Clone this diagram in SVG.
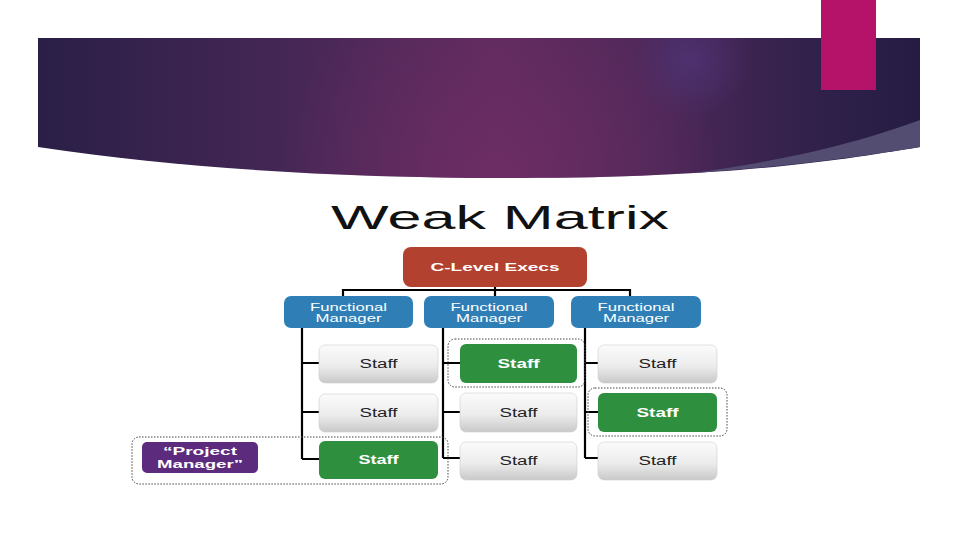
<svg xmlns="http://www.w3.org/2000/svg" width="960" height="540" viewBox="0 0 960 540">
<defs>
<linearGradient id="bandH" x1="0" y1="0" x2="1" y2="0">
<stop offset="0" stop-color="#2a1f47"/>
<stop offset="0.3" stop-color="#472756"/>
<stop offset="0.52" stop-color="#5e2b5f"/>
<stop offset="0.72" stop-color="#4a2757"/>
<stop offset="0.9" stop-color="#2e2049"/>
<stop offset="1" stop-color="#261c43"/>
</linearGradient>
<radialGradient id="glowMag" cx="500" cy="180" r="220" gradientUnits="userSpaceOnUse">
<stop offset="0" stop-color="#6e2d64" stop-opacity="0.9"/>
<stop offset="1" stop-color="#6e2d64" stop-opacity="0"/>
</radialGradient>
<radialGradient id="glowBlue" cx="690" cy="60" r="60" gradientUnits="userSpaceOnUse">
<stop offset="0" stop-color="#4e3272" stop-opacity="0.9"/>
<stop offset="1" stop-color="#4e3272" stop-opacity="0"/>
</radialGradient>
<linearGradient id="grayBox" x1="0" y1="0" x2="0" y2="1">
<stop offset="0" stop-color="#fbfbfb"/>
<stop offset="0.55" stop-color="#ececec"/>
<stop offset="1" stop-color="#c9c9c9"/>
</linearGradient>
<style>
.conn{stroke:#000;stroke-width:2.2;fill:none}
.dot{fill:none;stroke:#444;stroke-width:1;stroke-dasharray:1.5 1.5}
.gray{fill:url(#grayBox);stroke:#cfcfcf;stroke-width:0.6}
.green{fill:#2e8f3f}
.blue{fill:#2f7fb6}
.t{font-family:"Liberation Sans",Arial,sans-serif;text-anchor:middle}
.tw{fill:#fff}
.tb{font-weight:bold}
.td{fill:#222}
</style>
</defs>
<rect width="960" height="540" fill="#fff"/>
<g id="header">
<path d="M38,38 H920 V147 C830,162 720,178 520,178 C330,178 180,168 38,147 Z" fill="url(#bandH)"/>
<path d="M38,38 H920 V147 C830,162 720,178 520,178 C330,178 180,168 38,147 Z" fill="url(#glowMag)"/>
<path d="M38,38 H920 V147 C830,162 720,178 520,178 C330,178 180,168 38,147 Z" fill="url(#glowBlue)"/>
<path d="M692,173 C790,160 860,142 920,120 V147 C840,160 770,168 692,173 Z" fill="#534d72"/>
<rect x="821" y="0" width="55" height="90" fill="#b5136a"/>
</g>
<text class="t" x="500" y="229" font-size="33" fill="#111" textLength="338" lengthAdjust="spacingAndGlyphs">Weak Matrix</text>
<g id="connectors">
<path class="conn" d="M495,287 V297 M343,297 V290 H630 V297 M495,290 V297"/>
<path class="conn" d="M302,328 V459 M302,363 H320 M302,412 H320 M302,459 H320"/>
<path class="conn" d="M443,328 V458 M443,363 H460 M443,412 H460 M443,458 H460"/>
<path class="conn" d="M585,328 V458 M585,363 H598 M585,412 H598 M585,458 H598"/>
</g>
<g id="c-level">
<rect x="403" y="247" width="184" height="40" rx="8" fill="#b3412f"/>
<text class="t tw tb" x="495" y="271" font-size="11.5" textLength="129" lengthAdjust="spacingAndGlyphs">C-Level Execs</text>
</g>
<g id="fm1">
<rect class="blue" x="284" y="296" width="129" height="32" rx="7"/>
<text class="t tw" x="348.5" y="310.5" font-size="10" textLength="77" lengthAdjust="spacingAndGlyphs">Functional</text>
<text class="t tw" x="348.5" y="321.5" font-size="10" textLength="66" lengthAdjust="spacingAndGlyphs">Manager</text>
</g>
<g id="fm2">
<rect class="blue" x="424" y="296" width="130" height="32" rx="7"/>
<text class="t tw" x="489" y="310.5" font-size="10" textLength="77" lengthAdjust="spacingAndGlyphs">Functional</text>
<text class="t tw" x="489" y="321.5" font-size="10" textLength="66" lengthAdjust="spacingAndGlyphs">Manager</text>
</g>
<g id="fm3">
<rect class="blue" x="571" y="296" width="130" height="32" rx="7"/>
<text class="t tw" x="636" y="310.5" font-size="10" textLength="77" lengthAdjust="spacingAndGlyphs">Functional</text>
<text class="t tw" x="636" y="321.5" font-size="10" textLength="66" lengthAdjust="spacingAndGlyphs">Manager</text>
</g>
<g id="pm-group">
<rect class="dot" x="132" y="437" width="316" height="47" rx="7"/>
</g>
<g id="pm">
<rect x="142" y="442" width="116" height="31" rx="5" fill="#5d2b7d"/>
<text class="t tw tb" x="200" y="455" font-size="11" textLength="74" lengthAdjust="spacingAndGlyphs">“Project</text>
<text class="t tw tb" x="200" y="467.5" font-size="11" textLength="86" lengthAdjust="spacingAndGlyphs">Manager”</text>
</g>
<g id="staff-1-1">
<rect class="gray" x="319" y="345" width="119" height="38" rx="6"/>
<text class="t td" x="378.5" y="367.5" font-size="12" textLength="38" lengthAdjust="spacingAndGlyphs">Staff</text>
</g>
<g id="staff-1-2">
<rect class="gray" x="319" y="394" width="119" height="38" rx="6"/>
<text class="t td" x="378.5" y="416.5" font-size="12" textLength="38" lengthAdjust="spacingAndGlyphs">Staff</text>
</g>
<g id="staff-1-3">
<rect class="green" x="319" y="441" width="119" height="38" rx="6"/>
<text class="t tw tb" x="378.5" y="464" font-size="12" textLength="40" lengthAdjust="spacingAndGlyphs">Staff</text>
</g>
<g id="staff-2-1">
<rect class="dot" x="448" y="339" width="137" height="48" rx="7"/>
<rect class="green" x="460" y="344" width="117" height="39" rx="6"/>
<text class="t tw tb" x="518.5" y="367.5" font-size="12" textLength="42" lengthAdjust="spacingAndGlyphs">Staff</text>
</g>
<g id="staff-2-2">
<rect class="gray" x="460" y="393" width="117" height="39" rx="6"/>
<text class="t td" x="518.5" y="416.5" font-size="12" textLength="38" lengthAdjust="spacingAndGlyphs">Staff</text>
</g>
<g id="staff-2-3">
<rect class="gray" x="460" y="442" width="117" height="38" rx="6"/>
<text class="t td" x="518.5" y="465" font-size="12" textLength="38" lengthAdjust="spacingAndGlyphs">Staff</text>
</g>
<g id="staff-3-1">
<rect class="gray" x="598" y="345" width="119" height="38" rx="6"/>
<text class="t td" x="657.5" y="367.5" font-size="12" textLength="38" lengthAdjust="spacingAndGlyphs">Staff</text>
</g>
<g id="staff-3-2">
<rect class="dot" x="588" y="388" width="139" height="48" rx="7"/>
<rect class="green" x="598" y="393" width="119" height="39" rx="6"/>
<text class="t tw tb" x="657.5" y="416.5" font-size="12" textLength="42" lengthAdjust="spacingAndGlyphs">Staff</text>
</g>
<g id="staff-3-3">
<rect class="gray" x="598" y="442" width="119" height="38" rx="6"/>
<text class="t td" x="657.5" y="465" font-size="12" textLength="38" lengthAdjust="spacingAndGlyphs">Staff</text>
</g>
</svg>
